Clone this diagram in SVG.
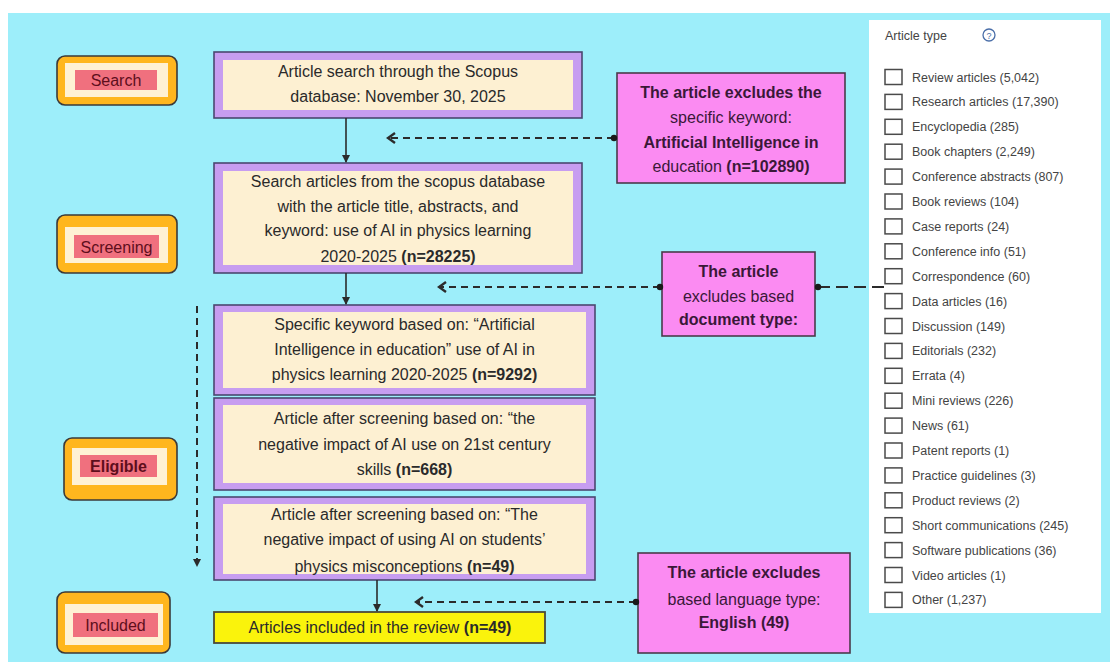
<svg xmlns="http://www.w3.org/2000/svg" width="1110" height="662" viewBox="0 0 1110 662">
<defs>
<style>
.bg{fill:#9DEEFA}
.lab-o{fill:#FFB61E;stroke:#3a3a3a;stroke-width:1.6}
.lab-c{fill:#FFF1D4}
.lab-p{fill:#F0707E}
.lab-t{font-family:"Liberation Sans",Arial,sans-serif;font-size:16px;fill:#5E0E1C;text-anchor:middle}
.frame{fill:#C79DF0;stroke:#4A4870;stroke-width:1.6}
.cream{fill:#FDF0D2}
.bt{font-family:"Liberation Sans",Arial,sans-serif;font-size:16px;fill:#2a2a2a;text-anchor:middle}
.pink{fill:#FB8BF2;stroke:#4a3a4a;stroke-width:1.6}
.pt{font-family:"Liberation Sans",Arial,sans-serif;font-size:16px;fill:#3a1838;text-anchor:middle}
.b{font-weight:bold}
.solid{stroke:#2b2b2b;stroke-width:1.6;fill:none}
.dash{stroke:#2b2b2b;stroke-width:2;stroke-dasharray:7 5;fill:none}
.dash2{stroke:#2b2b2b;stroke-width:2;stroke-dasharray:12 6;fill:none}
.cb{fill:#fff;stroke:#4a4a4a;stroke-width:1.5}
.lt{font-family:"Liberation Sans",Arial,sans-serif;font-size:12.5px;fill:#444444}
</style>
<marker id="tri" markerWidth="8" markerHeight="8" refX="7" refY="4" orient="auto" markerUnits="userSpaceOnUse">
<path d="M0,0 L8,4 L0,8 z" fill="#2b2b2b"/>
</marker>
<marker id="chev" markerWidth="12" markerHeight="12" refX="10" refY="6" orient="auto" markerUnits="userSpaceOnUse">
<path d="M3,1 L10,6 L3,11" fill="none" stroke="#2b2b2b" stroke-width="2.4"/>
</marker>
<marker id="dot" markerWidth="8" markerHeight="8" refX="4" refY="4" markerUnits="userSpaceOnUse">
<circle cx="4" cy="4" r="3.2" fill="#1a1a1a"/>
</marker>
</defs>

<rect x="0" y="0" width="1110" height="662" fill="#ffffff"/>
<rect class="bg" x="8" y="13" width="1102" height="649"/>

<!-- stage labels -->
<g id="label-search">
<rect class="lab-o" x="57" y="56" width="120" height="49" rx="8"/>
<rect class="lab-c" x="65" y="63" width="103" height="34"/>
<rect class="lab-p" x="75" y="70" width="82" height="20"/>
<text class="lab-t" x="116" y="86">Search</text>
</g>
<g id="label-screening">
<rect class="lab-o" x="57" y="215" width="120" height="58" rx="8"/>
<rect class="lab-c" x="65" y="227" width="103" height="36"/>
<rect class="lab-p" x="74" y="235" width="85" height="23"/>
<text class="lab-t" x="116.5" y="252.5">Screening</text>
</g>
<g id="label-eligible">
<rect class="lab-o" x="64" y="438" width="113" height="62" rx="8"/>
<rect class="lab-c" x="72" y="448" width="95" height="37"/>
<rect class="lab-p" x="80" y="455" width="77" height="22"/>
<text class="lab-t b" x="118.5" y="472">Eligible</text>
</g>
<g id="label-included">
<rect class="lab-o" x="57" y="592" width="113" height="61" rx="8"/>
<rect class="lab-c" x="65" y="604" width="98" height="41"/>
<rect class="lab-p" x="73" y="613" width="85" height="24"/>
<text class="lab-t" x="115.5" y="631">Included</text>
</g>

<!-- main flow boxes -->
<g id="box-search">
<rect class="frame" x="214" y="52" width="368" height="66"/>
<rect class="cream" x="223" y="60" width="350" height="50"/>
<text class="bt" x="398" y="77">Article search through the Scopus</text>
<text class="bt" x="398" y="102">database: November 30, 2025</text>
</g>
<g id="box-scopus">
<rect class="frame" x="214" y="163" width="368" height="110"/>
<rect class="cream" x="223" y="171" width="350" height="94"/>
<text class="bt" x="398" y="187">Search articles from the scopus database</text>
<text class="bt" x="398" y="212">with the article title, abstracts, and</text>
<text class="bt" x="398" y="236">keyword: use of AI in physics learning</text>
<text class="bt" x="398" y="262">2020-2025 <tspan class="b">(n=28225)</tspan></text>
</g>
<g id="box-keyword">
<rect class="frame" x="214" y="305" width="381" height="90"/>
<rect class="cream" x="223" y="312" width="363" height="76"/>
<text class="bt" x="404.5" y="330">Specific keyword based on: “Artificial</text>
<text class="bt" x="404.5" y="355">Intelligence in education” use of AI in</text>
<text class="bt" x="404.5" y="380">physics learning 2020-2025 <tspan class="b">(n=9292)</tspan></text>
</g>
<g id="box-skills">
<rect class="frame" x="214" y="398" width="381" height="92"/>
<rect class="cream" x="223" y="405" width="363" height="78"/>
<text class="bt" x="404.5" y="424">Article after screening based on: “the</text>
<text class="bt" x="404.5" y="450">negative impact of AI use on 21st century</text>
<text class="bt" x="404.5" y="475">skills <tspan class="b">(n=668)</tspan></text>
</g>
<g id="box-misconceptions">
<rect class="frame" x="214" y="497" width="381" height="83"/>
<rect class="cream" x="223" y="504" width="363" height="70"/>
<text class="bt" x="404.5" y="520">Article after screening based on: “The</text>
<text class="bt" x="404.5" y="545">negative impact of using AI on students’</text>
<text class="bt" x="404.5" y="572">physics misconceptions <tspan class="b">(n=49)</tspan></text>
</g>
<g id="box-included">
<rect x="214" y="612" width="331" height="31" fill="#FAF30C" stroke="#4a4a3a" stroke-width="1.8"/>
<text class="bt" x="380" y="633">Articles included in the review <tspan class="b">(n=49)</tspan></text>
</g>

<!-- exclusion boxes -->
<g id="excl-keyword">
<rect class="pink" x="617" y="73" width="228" height="110"/>
<text class="pt b" x="731" y="98">The article excludes the</text>
<text class="pt" x="731" y="123">specific keyword:</text>
<text class="pt b" x="731" y="148">Artificial Intelligence in</text>
<text class="pt" x="731" y="172">education <tspan class="b">(n=102890)</tspan></text>
</g>
<g id="excl-doctype">
<rect class="pink" x="662" y="252" width="153" height="84"/>
<text class="pt b" x="738.5" y="277">The article</text>
<text class="pt" x="738.5" y="302">excludes based</text>
<text class="pt b" x="738.5" y="325">document type:</text>
</g>
<g id="excl-language">
<rect class="pink" x="638" y="553" width="212" height="100"/>
<text class="pt b" x="744" y="578">The article excludes</text>
<text class="pt" x="744" y="605">based language type:</text>
<text class="pt b" x="744" y="628">English (49)</text>
</g>

<!-- article type panel -->
<g id="article-type-panel">
<rect x="869" y="20" width="232" height="593" fill="#ffffff"/>
<text class="lt" x="885" y="40" font-size="13.5" fill="#555555">Article type</text>
<circle cx="989" cy="35" r="6" fill="none" stroke="#4a6ea8" stroke-width="1.3"/>
<text x="989" y="38.5" font-family="Liberation Sans,Arial,sans-serif" font-size="9" fill="#4a6ea8" text-anchor="middle">?</text>
<rect class="cb" x="885" y="69.5" width="17" height="15"/>
<text class="lt" x="912" y="81.5">Review articles (5,042)</text>
<rect class="cb" x="885" y="94.4" width="17" height="15"/>
<text class="lt" x="912" y="106.4">Research articles (17,390)</text>
<rect class="cb" x="885" y="119.3" width="17" height="15"/>
<text class="lt" x="912" y="131.3">Encyclopedia (285)</text>
<rect class="cb" x="885" y="144.2" width="17" height="15"/>
<text class="lt" x="912" y="156.2">Book chapters (2,249)</text>
<rect class="cb" x="885" y="169.1" width="17" height="15"/>
<text class="lt" x="912" y="181.1">Conference abstracts (807)</text>
<rect class="cb" x="885" y="194" width="17" height="15"/>
<text class="lt" x="912" y="206">Book reviews (104)</text>
<rect class="cb" x="885" y="218.9" width="17" height="15"/>
<text class="lt" x="912" y="230.9">Case reports (24)</text>
<rect class="cb" x="885" y="243.8" width="17" height="15"/>
<text class="lt" x="912" y="255.8">Conference info (51)</text>
<rect class="cb" x="885" y="268.7" width="17" height="15"/>
<text class="lt" x="912" y="280.7">Correspondence (60)</text>
<rect class="cb" x="885" y="293.6" width="17" height="15"/>
<text class="lt" x="912" y="305.6">Data articles (16)</text>
<rect class="cb" x="885" y="318.5" width="17" height="15"/>
<text class="lt" x="912" y="330.5">Discussion (149)</text>
<rect class="cb" x="885" y="343.4" width="17" height="15"/>
<text class="lt" x="912" y="355.4">Editorials (232)</text>
<rect class="cb" x="885" y="368.3" width="17" height="15"/>
<text class="lt" x="912" y="380.3">Errata (4)</text>
<rect class="cb" x="885" y="393.2" width="17" height="15"/>
<text class="lt" x="912" y="405.2">Mini reviews (226)</text>
<rect class="cb" x="885" y="418.1" width="17" height="15"/>
<text class="lt" x="912" y="430.1">News (61)</text>
<rect class="cb" x="885" y="443" width="17" height="15"/>
<text class="lt" x="912" y="455">Patent reports (1)</text>
<rect class="cb" x="885" y="467.9" width="17" height="15"/>
<text class="lt" x="912" y="479.9">Practice guidelines (3)</text>
<rect class="cb" x="885" y="492.8" width="17" height="15"/>
<text class="lt" x="912" y="504.8">Product reviews (2)</text>
<rect class="cb" x="885" y="517.7" width="17" height="15"/>
<text class="lt" x="912" y="529.7">Short communications (245)</text>
<rect class="cb" x="885" y="542.6" width="17" height="15"/>
<text class="lt" x="912" y="554.6">Software publications (36)</text>
<rect class="cb" x="885" y="567.5" width="17" height="15"/>
<text class="lt" x="912" y="579.5">Video articles (1)</text>
<rect class="cb" x="885" y="592.4" width="17" height="15"/>
<text class="lt" x="912" y="604.4">Other (1,237)</text>
</g>

<!-- connectors -->
<g id="connectors">
<line class="solid" x1="346" y1="118" x2="346" y2="162" marker-end="url(#tri)"/>
<line class="solid" x1="346" y1="273" x2="346" y2="304" marker-end="url(#tri)"/>
<line class="solid" x1="377" y1="580" x2="377" y2="611" marker-end="url(#tri)"/>
<line class="dash" x1="614" y1="138" x2="388" y2="138" marker-start="url(#dot)" marker-end="url(#chev)"/>
<line class="dash" x1="660" y1="287" x2="439" y2="287" marker-start="url(#dot)" marker-end="url(#chev)"/>
<line class="dash2" x1="884" y1="287" x2="818" y2="287" marker-end="url(#dot)"/>
<line class="dash" x1="636" y1="602" x2="416" y2="602" marker-start="url(#dot)" marker-end="url(#chev)"/>
<line class="dash" x1="197" y1="306" x2="197" y2="566" marker-end="url(#tri)"/>
</g>
</svg>
